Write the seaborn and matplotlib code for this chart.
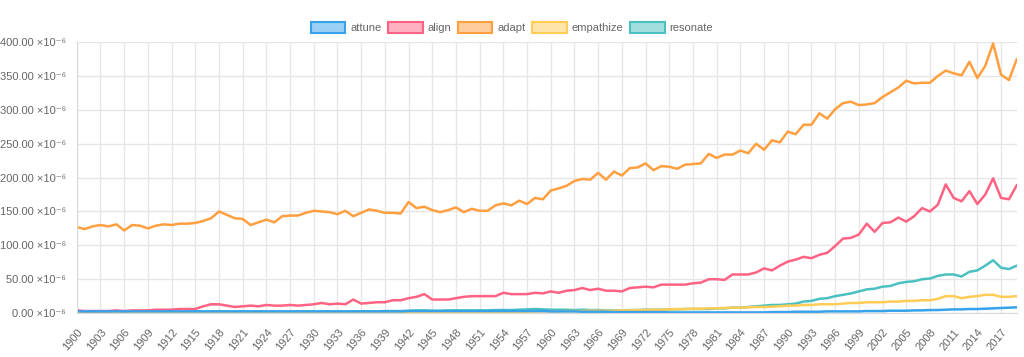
import numpy as np
import pandas as pd
import matplotlib
matplotlib.use("Agg")
import matplotlib.pyplot as plt
from matplotlib.patches import Patch
from matplotlib.ticker import FuncFormatter, MultipleLocator
import seaborn as sns

# ---------------- DATA (values in units of 1e-6) ----------------
years = list(range(1900, 2020))

attune = [
    2.5, 2.5, 2.5, 2.5, 2.5, 2.5, 2.5, 2.5, 2.5, 2.5,
    2.5, 2.5, 2.5, 2.5, 2.5, 2.5, 2.5, 2.5, 2.5, 2.5,
    2.5, 2.5, 2.5, 2.5, 2.5, 2.5, 2.5, 2.5, 2.5, 2.5,
    2.5, 2.5, 2.5, 2.5, 2.5, 2.5, 2.5, 2.5, 2.5, 2.5,
    2.5, 2.5, 3.0, 3.0, 3.0, 3.0, 3.0, 3.0, 3.0, 3.0,
    3.0, 3.0, 3.0, 3.0, 3.0, 3.0, 3.0, 3.0, 3.0, 3.0,
    2.5, 2.5, 2.5, 2.5, 2.0, 2.0, 2.0, 2.0, 1.5, 1.5,
    1.5, 1.5, 1.5, 1.5, 1.5, 1.0, 1.0, 1.0, 1.0, 1.0,
    1.0, 1.0, 1.0, 1.0, 1.0, 1.0, 1.0, 1.0, 1.5, 1.5,
    1.5, 2.0, 2.0, 2.0, 2.0, 2.5, 2.5, 2.5, 2.5, 2.5,
    3.0, 3.0, 3.0, 3.5, 3.5, 3.5, 4.0, 4.0, 4.5, 4.5,
    5.0, 5.5, 5.5, 6.0, 6.0, 6.5, 7.0, 7.5, 8.0, 8.5,
]

align = [
    4, 3, 3, 3, 3, 4, 3, 4, 4, 4,
    5, 5, 5, 6, 6, 6, 10, 13, 13, 11,
    9, 10, 11, 10, 12, 11, 11, 12, 11, 12,
    13, 15, 13, 14, 13, 20, 14, 15, 16, 16,
    19, 19, 22, 24, 28, 20, 20, 20, 22, 24,
    25, 25, 25, 25, 30, 28, 28, 28, 30, 29,
    32, 30, 33, 34, 37, 34, 36, 33, 33, 32,
    37, 38, 39, 38, 42, 42, 42, 42, 44, 45,
    50, 50, 49, 57, 57, 57, 60, 66, 63, 70,
    76, 79, 83, 81, 86, 89, 99, 110, 111, 116,
    132, 120, 133, 134, 141, 135, 143, 155, 150, 160,
    190, 170, 165, 180, 161, 175, 199, 170, 168, 189,
]

adapt = [
    127, 124, 128, 130, 128, 131, 122, 130, 129, 125,
    129, 131, 130, 132, 132, 133, 136, 140, 150, 145,
    140, 139, 130, 134, 138, 134, 143, 144, 144, 148,
    151, 150, 149, 146, 151, 143, 148, 153, 151, 148,
    148, 147, 164, 155, 157, 152, 149, 152, 156, 149,
    154, 151, 151, 159, 162, 159, 166, 161, 170, 168,
    181, 184, 188, 195, 198, 197, 207, 197, 209, 203,
    214, 215, 221, 211, 217, 216, 213, 219, 220, 221,
    235, 229, 234, 234, 240, 236, 250, 241, 255, 252,
    268, 264, 278, 278, 295, 287, 301, 310, 312, 307,
    308, 310, 319, 326, 333, 343, 339, 340, 340, 350,
    358, 354, 351, 371, 347, 365, 398, 352, 344, 375,
]

empathize = [
    1, 1, 1, 1, 1, 1, 1, 1, 1, 1,
    1, 1, 1, 1, 1, 1, 1, 1, 1, 1,
    1, 1, 1, 1, 1, 1, 1, 1, 1, 1,
    1, 1, 1, 1, 1, 1, 1, 1, 1, 1,
    1.5, 1.5, 1.5, 1.5, 1.5, 1.5, 1.5, 1.5, 1.5, 1.5,
    2, 2, 2, 2, 2, 2, 2, 2, 2.5, 2.5,
    2.5, 2.5, 3, 3, 3, 3.5, 3.5, 3.5, 3.5, 4,
    4, 4.5, 4.5, 5, 5, 5.5, 6, 6, 6.5, 6.5,
    7, 7, 7.5, 8, 8, 8.5, 9, 9, 9.5, 10,
    11, 11, 12, 12, 13, 13, 13, 14, 15, 15,
    16, 16, 16, 17, 17, 18, 18, 19, 19, 21,
    25, 25, 22, 24, 25, 27, 27, 24, 24, 25,
]

resonate = [
    2, 2, 2, 2, 2, 2, 2, 2, 2, 2,
    2, 2, 2, 2, 2, 2, 2, 2, 2, 2,
    2, 2, 2, 2, 2, 2, 2, 2, 2, 2,
    2, 2, 2, 2, 2, 2.5, 2.5, 2.5, 2.5, 3,
    3, 3, 3.5, 4, 4, 3.5, 3.5, 4, 4, 4,
    4, 4, 4, 4.5, 4.5, 4.5, 5, 5.5, 6, 5.5,
    5, 5, 5, 4.5, 5, 4.5, 4.5, 4, 4, 4,
    4.5, 4.5, 5, 5, 5, 5.5, 5.5, 6, 6, 6,
    6, 7, 7, 8, 8, 9, 10, 11, 12, 12,
    13, 14, 17, 18, 21, 22, 25, 27, 29, 32,
    35, 36, 39, 40, 44, 46, 47, 50, 51, 55,
    57, 57, 54, 61, 63, 70, 78, 67, 65, 70,
]

series_names = ["attune", "align", "adapt", "empathize", "resonate"]
series_values = [attune, align, adapt, empathize, resonate]
colors = ["#36a2eb", "#ff6384", "#ff9f40", "#ffcd56", "#4bc0c0"]

# ---------------- BUILD DATAFRAME ----------------
df = pd.concat(
    [pd.DataFrame({"year": years, "value": v, "word": n})
     for n, v in zip(series_names, series_values)],
    ignore_index=True,
)

# ---------------- PLOT ----------------
sns.set_style("white")
plt.rcParams["font.family"] = ["Liberation Sans", "DejaVu Sans"]

fig = plt.figure(figsize=(10.24, 3.57), dpi=100)
ax = fig.add_axes([0.075, 0.123, 0.918, 0.759])

palette = dict(zip(series_names, colors))
# chart.js draws the first dataset on top, so plot in reverse
for name in reversed(series_names):
    sns.lineplot(data=df[df.word == name], x="year", y="value",
                 color=palette[name], linewidth=1.8, ax=ax, legend=False)

ax.set_xlim(years[0], years[-1])
ax.set_ylim(0, 400)
ax.set_xlabel("")
ax.set_ylabel("")

ax.set_xticks(years[::3])
ax.yaxis.set_major_locator(MultipleLocator(50))
ax.yaxis.set_major_formatter(FuncFormatter(lambda v, p: f"{v:.2f} ×10⁻⁶"))

ax.grid(True, color="#e6e6e6", linewidth=1)
ax.set_axisbelow(True)
for s in ["top", "right"]:
    ax.spines[s].set_visible(False)
ax.spines["left"].set_color("#d9d9d9")
ax.spines["bottom"].set_color("#d9d9d9")

ax.tick_params(axis="both", length=8, width=1, color="#e6e6e6",
               labelsize=8, labelcolor="#666666", pad=2)
ax.tick_params(axis="y", length=6, pad=2)
plt.setp(ax.get_xticklabels(), rotation=50, ha="right", rotation_mode="anchor")

handles = [Patch(facecolor=matplotlib.colors.to_rgba(c, 0.5),
                 edgecolor=c, linewidth=1.5) for c in colors]
fig.legend(handles, series_names, loc="center", ncol=5,
           bbox_to_anchor=(0.5, 0.922), frameon=False, fontsize=8,
           handlelength=3.1, handleheight=1.1, handletextpad=0.45,
           columnspacing=0.6, labelcolor="#666666")

plt.savefig("out.png", dpi=100)
